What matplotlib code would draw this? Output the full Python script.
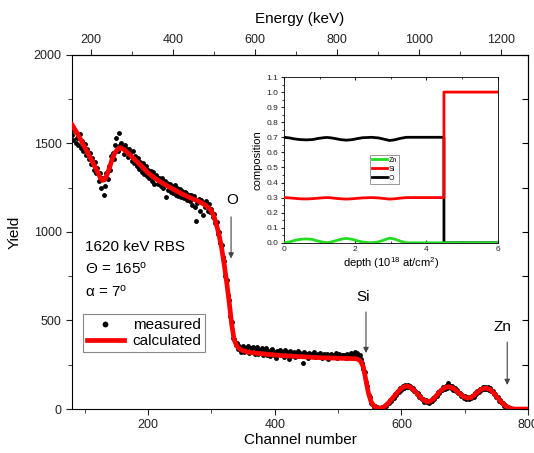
import numpy as np
import matplotlib.pyplot as plt
from matplotlib.ticker import MultipleLocator

plt.rcParams['font.family'] = ['Liberation Sans', 'DejaVu Sans']
plt.rcParams['mathtext.fontset'] = 'custom'
plt.rcParams['mathtext.rm'] = 'Liberation Sans'
plt.rcParams['mathtext.it'] = 'Liberation Sans:italic'

# measured yield, one value every 2 channels starting at channel 80
measured = [
    1545, 1520, 1568, 1502, 1530, 1488, 1551, 1476, 1512, 1459,
    1495, 1432, 1470, 1410, 1446, 1381, 1419, 1352, 1395, 1330,
    1362, 1290, 1335, 1248, 1305, 1210, 1262, 1335, 1298, 1372,
    1350, 1428, 1445, 1410, 1492, 1530, 1455, 1558, 1489, 1502,
    1480, 1438, 1491, 1470, 1425, 1468, 1446, 1402, 1455, 1390,
    1431, 1372, 1416, 1358, 1395, 1340, 1390, 1328, 1372, 1318,
    1352, 1305, 1345, 1290, 1338, 1272, 1322, 1310, 1268, 1302,
    1260, 1303, 1250, 1288, 1195, 1279, 1236, 1270, 1228, 1262,
    1218, 1265, 1210, 1248, 1203, 1240, 1196, 1232, 1190, 1226,
    1222, 1180, 1210, 1172, 1210, 1150, 1201, 1140, 1062, 1162,
    1186, 1120, 1179, 1098, 1165, 1140, 1172, 1116, 1158, 1112,
    1130, 1085, 1102, 1052, 1058, 990, 1001, 935, 925, 858,
    835, 752, 730, 645, 615, 528, 490, 402, 395, 362,
    372, 338, 355, 322, 345,
    354, 322, 347, 330, 357, 317, 342, 324, 350, 313,
    338, 352, 310, 334, 317, 347, 304, 330, 342, 308,
    327, 297, 332, 340, 304, 322, 287, 330, 312, 334,
    307, 324, 296, 332, 308, 320, 282, 327, 302, 317,
    322, 294, 312, 330, 302, 317, 308, 262, 324, 300,
    312, 290, 317, 302, 310, 297, 322, 292, 307, 312,
    297, 314, 288, 307, 312, 294, 310, 282, 305, 313,
    292, 308, 300, 317, 290, 304, 312, 296, 308, 298,
    306, 287, 312, 301, 294, 314, 302, 308, 322, 297,
    318, 296, 305, 282, 262, 228, 210, 150, 128, 80,
    66, 35, 28, 14, 18, 4, 10, 2, 8, 3,
    12, 7, 20, 18, 34, 32, 50, 48, 66, 64,
    85, 82, 104, 98, 118, 110, 130, 120, 138, 126,
    136, 122, 130, 112, 118, 100, 104, 85, 88, 68,
    72, 55, 58, 42, 50, 38, 46, 36, 48, 44,
    60, 56, 76, 74, 94, 90, 110, 106, 122, 114,
    130, 120, 148, 132, 118, 128, 110, 118, 100, 106,
    88, 92, 74, 80, 65, 72, 58, 68, 56, 68,
    60, 75, 70, 88, 84, 102, 96, 114, 106, 122,
    112, 124, 113, 126, 108, 118, 100, 104, 84, 86,
    66, 68, 48, 50, 34, 35, 20, 22, 10, 13,
    4, 6, 0, 3, 0,
    1, 0, 2, 0, 1, 0, 0, 1, 0, 0, 1,
]
meas_ch = np.arange(80, 80 + 2 * len(measured), 2)

# simulated spectrum
calc_ch = [80, 90, 100, 110, 118, 124, 128, 132, 136, 140,
           144, 148, 152, 156, 162, 170, 180, 190, 200, 210,
           220, 235, 250, 265, 280, 290, 296, 300, 304, 308,
           312, 316, 320, 324, 328, 332, 336, 340, 344, 350,
           360, 380, 400, 420, 440, 460, 480, 500, 520, 528,
           532, 536, 540, 544, 548, 552, 556, 560, 566, 572,
           578, 584, 590, 596, 602, 608, 614, 620, 626, 632,
           638, 644, 650, 656, 662, 668, 674, 680, 686, 692,
           698, 704, 710, 716, 722, 728, 734, 740, 746, 752,
           758, 764, 770, 776, 780, 800]
calculated = [1605, 1545, 1478, 1410, 1355, 1310, 1291, 1296, 1330, 1373,
              1420, 1449, 1467, 1476, 1465, 1440, 1405, 1370, 1333, 1305,
              1281, 1250, 1221, 1195, 1173, 1152, 1135, 1118, 1089, 1040,
              983, 910, 820, 717, 604, 478, 390, 356, 341, 329,
              320, 312, 305, 300, 296, 292, 289, 287, 285, 284,
              280, 268, 235, 160, 88, 42, 20, 9, 5, 11,
              29, 53, 79, 104, 122, 130, 124, 106, 82, 59,
              44, 42, 55, 79, 104, 120, 126, 121, 106, 86,
              70, 62, 65, 82, 102, 115, 118, 111, 90, 63,
              38, 19, 7, 1, 0, 0]

# energy calibration (keV = offset + gain * channel)
e_offset = 30.5
e_gain = 1.544

# depth profile for the inset
depth = [0, 0.15, 0.3, 0.45, 0.63, 0.8, 0.95, 1.1, 1.2, 1.3,
         1.45, 1.6, 1.75, 1.9, 2.05, 2.2, 2.45, 2.65, 2.8, 2.96,
         3.1, 3.25, 3.43, 4.49, 4.49, 6.0]
zn = [0, 0.006, 0.016, 0.023, 0.026, 0.022, 0.012, 0.004, 0.001, 0.004,
      0.014, 0.024, 0.029, 0.024, 0.014, 0.005, 0.0, 0.006, 0.018, 0.031,
      0.025, 0.012, 0.0, 0.0, 0.0, 0.0]
si = [0.300, 0.298, 0.295, 0.292, 0.291, 0.293, 0.296, 0.299, 0.300, 0.299,
      0.295, 0.292, 0.290, 0.292, 0.295, 0.298, 0.300, 0.298, 0.294, 0.290,
      0.292, 0.296, 0.300, 0.300, 1.0, 1.0]
ox = [0.700, 0.696, 0.689, 0.685, 0.683, 0.685, 0.692, 0.697, 0.699, 0.697,
      0.691, 0.684, 0.681, 0.684, 0.691, 0.697, 0.700, 0.696, 0.688, 0.679,
      0.683, 0.692, 0.700, 0.700, 0.0, 0.0]

fig = plt.figure(figsize=(5.34, 4.53), dpi=100)
ax = fig.add_axes([0.135, 0.097, 0.854, 0.782])

ax.plot(meas_ch, measured, 'o', color='black', ms=3.5, mew=0, label='measured', zorder=2)
ax.plot(calc_ch, calculated, '-', color='red', lw=3.4, label='calculated', zorder=3)

ax.set_xlim(80, 800)
ax.set_ylim(0, 2000)
ax.xaxis.set_major_locator(MultipleLocator(200))
ax.xaxis.set_minor_locator(MultipleLocator(100))
ax.yaxis.set_major_locator(MultipleLocator(500))
ax.yaxis.set_minor_locator(MultipleLocator(250))
ax.tick_params(which='both', direction='out', top=False, right=False, labelsize=9, colors='#222')
ax.tick_params(which='major', length=4)
ax.tick_params(which='minor', length=3)
ax.set_xlabel('Channel number', fontsize=11)
ax.set_ylabel('Yield', fontsize=11)
ax.xaxis.set_label_coords(0.5, -0.068)
ax.yaxis.set_label_coords(-0.11, 0.5)

sec_y = ax.secondary_yaxis('right')
sec_y.yaxis.set_major_locator(MultipleLocator(250))
sec_y.tick_params(direction='in', length=4, labelright=False)


def ch_to_kev(ch):
    return e_offset + e_gain * np.asarray(ch)


def kev_to_ch(e):
    return (np.asarray(e) - e_offset) / e_gain


sec_x = ax.secondary_xaxis('top', functions=(ch_to_kev, kev_to_ch))
sec_x.xaxis.set_major_locator(MultipleLocator(200))
sec_x.xaxis.set_minor_locator(MultipleLocator(100))
sec_x.tick_params(which='both', direction='out', labelsize=9, colors='#222', pad=2)
sec_x.tick_params(which='major', length=4)
sec_x.tick_params(which='minor', length=3)
sec_x.set_xlabel('Energy (keV)', fontsize=11, labelpad=8)

# element edges
arrow = dict(arrowstyle='-|>', color='#444', lw=0.8, mutation_scale=8, shrinkA=0, shrinkB=0)
ax.annotate('', xy=(331, 850), xytext=(331, 1085), arrowprops=arrow)
ax.text(333, 1180, 'O', ha='center', va='center', fontsize=11)
ax.annotate('', xy=(544, 316), xytext=(544, 548), arrowprops=arrow)
ax.text(540, 633, 'Si', ha='center', va='center', fontsize=11)
ax.annotate('', xy=(767, 136), xytext=(767, 378), arrowprops=arrow)
ax.text(759, 463, 'Zn', ha='center', va='center', fontsize=11)

ax.text(100, 915, '1620 keV RBS', fontsize=11, va='center')
ax.text(100, 791, '\u0398 = 165$^{\\mathrm{o}}$', fontsize=11, va='center')
ax.text(100, 661, '\u03b1 = 7$^{\\mathrm{o}}$', fontsize=11, va='center')

leg = ax.legend(loc='lower left', bbox_to_anchor=(0.024, 0.161), borderaxespad=0,
                fontsize=11, numpoints=1, markerscale=1.2, handlelength=2.4,
                fancybox=False, edgecolor='#888', framealpha=1,
                borderpad=0.25, labelspacing=0.15, handletextpad=0.6)
leg.get_frame().set_linewidth(0.8)

# inset: depth profile
axin = fig.add_axes([0.532, 0.464, 0.40, 0.366])
l_o, = axin.plot(depth, ox, color='black', lw=2, label='O', zorder=2)
l_si, = axin.plot(depth, si, color='red', lw=2, label='Si', zorder=3)
l_zn, = axin.plot(depth, zn, color='#22dd22', lw=2, label='Zn', zorder=4)
axin.set_xlim(0, 6)
axin.set_ylim(0, 1.1)
axin.xaxis.set_major_locator(MultipleLocator(2))
axin.xaxis.set_minor_locator(MultipleLocator(1))
axin.yaxis.set_major_locator(MultipleLocator(0.1))
axin.yaxis.set_minor_locator(MultipleLocator(0.05))
axin.tick_params(axis='y', which='both', direction='out', labelsize=6, colors='#222', pad=1.5)
axin.tick_params(axis='x', which='both', direction='in', top=True, labelsize=6, colors='#222', pad=2)
axin.tick_params(which='major', length=2.5)
axin.tick_params(which='minor', length=1.5)
axin.set_xlabel('depth (10$^{18}$ at/cm$^{2}$)', fontsize=8)
axin.set_ylabel('composition', fontsize=8)
axin.xaxis.set_label_coords(0.5, -0.075)
axin.yaxis.set_label_coords(-0.1, 0.5)
for s in axin.spines.values():
    s.set_linewidth(0.6)
lin = axin.legend(handles=[l_zn, l_si, l_o], loc='lower left', bbox_to_anchor=(0.40, 0.355),
                  borderaxespad=0, fontsize=5, handlelength=2.2, fancybox=False,
                  edgecolor='#888', framealpha=1, borderpad=0.3, labelspacing=0.3,
                  handletextpad=0.3)
lin.get_frame().set_linewidth(0.6)

fig.savefig('out.png', dpi=100)
